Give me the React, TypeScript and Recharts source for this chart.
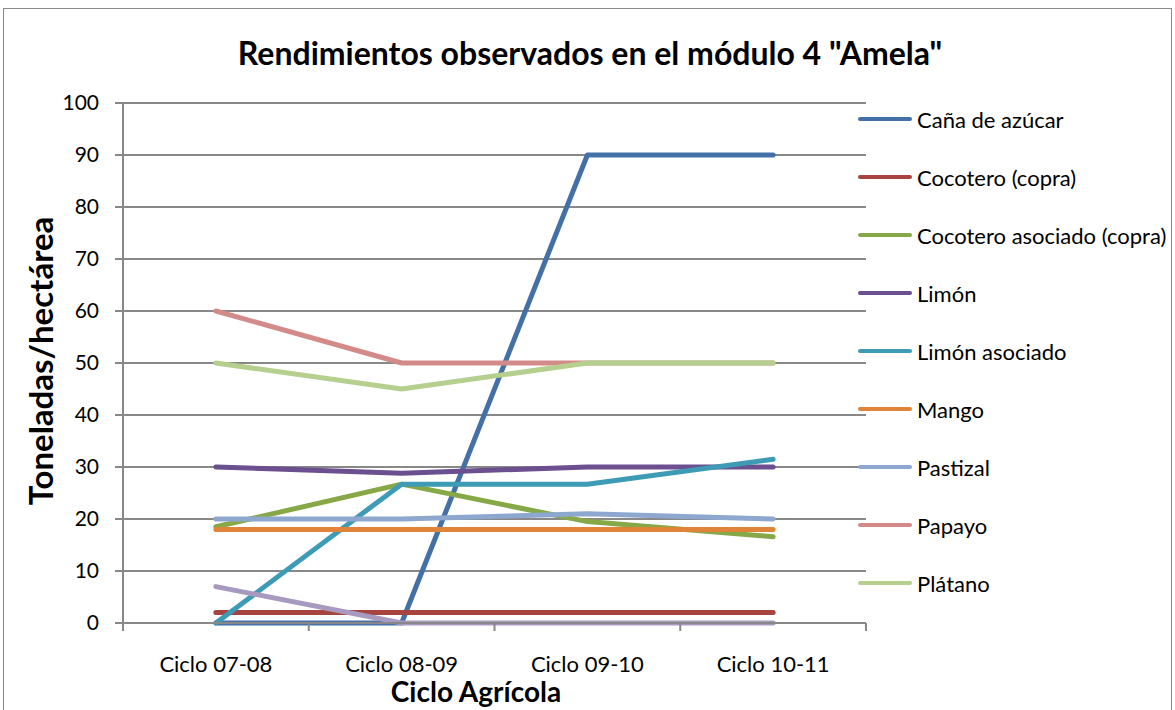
import React from 'react';
import { LineChart, Line, XAxis, YAxis, CartesianGrid } from 'recharts';

const ciclos = ['Ciclo 07-08', 'Ciclo 08-09', 'Ciclo 09-10', 'Ciclo 10-11'];

const cana = [0, 0, 90, 90];
const cocotero = [2, 2, 2, 2];
const cocoteroAsociado = [18.5, 26.7, 19.5, 16.6];
const limon = [30, 28.8, 30, 30];
const limonAsociado = [0, 26.7, 26.7, 31.5];
const mango = [18, 18, 18, 18];
const pastizal = [20, 20, 21, 20];
const papayo = [60, 50, 50, 50];
const platano = [50, 45, 50, 50];
const otro = [7, 0, 0, 0];

const yTicks = [0, 10, 20, 30, 40, 50, 60, 70, 80, 90, 100];

const series = [
  { key: 'cana', name: 'Caña de azúcar', values: cana, color: '#4470A8' },
  { key: 'cocotero', name: 'Cocotero (copra)', values: cocotero, color: '#A84440' },
  { key: 'cocoteroAsociado', name: 'Cocotero asociado (copra)', values: cocoteroAsociado, color: '#86A846' },
  { key: 'limon', name: 'Limón', values: limon, color: '#6B4F8E' },
  { key: 'limonAsociado', name: 'Limón asociado', values: limonAsociado, color: '#3E9BB5' },
  { key: 'mango', name: 'Mango', values: mango, color: '#E0843A' },
  { key: 'pastizal', name: 'Pastizal', values: pastizal, color: '#8EA7CE' },
  { key: 'papayo', name: 'Papayo', values: papayo, color: '#D38B89' },
  { key: 'platano', name: 'Plátano', values: platano, color: '#B5CF8E' },
  // no aparece en la leyenda original
  { key: 'otro', name: 'Otro', values: otro, color: '#A899C0', hidden: true },
];

const data = ciclos.map((c, i) => {
  const row: any = { ciclo: c };
  series.forEach((s) => { row[s.key] = s.values[i]; });
  return row;
});

const FONT = 'Lato, "Open Sans", sans-serif';
const AXIS = '#888';

// layout
const margin = { top: 103, right: 309, left: 63, bottom: 57 };
const yAxisWidth = 60;
const plotLeft = margin.left + yAxisWidth;
const plotRight = 1175 - margin.right;
const plotBottom = 710 - margin.bottom - 30;
const band = (plotRight - plotLeft) / ciclos.length;

// etiqueta de categoría + marcas entre categorías
const XTick = (props: any) => {
  const { x, payload, index } = props;
  const half = band / 2;
  return (
    <g>
      <line x1={x - half} x2={x - half} y1={plotBottom} y2={plotBottom + 8} stroke={AXIS} strokeWidth={2} />
      {index === ciclos.length - 1 && (
        <line x1={x + half} x2={x + half} y1={plotBottom} y2={plotBottom + 8} stroke={AXIS} strokeWidth={2} />
      )}
      <text x={x} y={plotBottom + 49} textAnchor="middle" fill="#000" fontSize={22} fontFamily={FONT}>
        {payload.value}
      </text>
    </g>
  );
};

export default function App() {
  return (
    <div style={{ position: 'absolute', left: 0, top: 0, width: 1175, height: 710, background: '#fff', fontFamily: FONT, overflow: 'hidden' }}>
      <div style={{ position: 'absolute', left: 3, top: 8, width: 1167, height: 720, border: '1.5px solid #8a8a8a' }} />
      <div style={{ position: 'absolute', left: 590, top: 52, transform: 'translate(-50%, -50%)', fontSize: 32, fontWeight: 700, whiteSpace: 'nowrap' }}>
        Rendimientos observados en el módulo 4 "Amela"
      </div>
      <div style={{ position: 'absolute', left: 40, top: 361, transform: 'translate(-50%, -50%) rotate(-90deg)', fontSize: 33, fontWeight: 700, whiteSpace: 'nowrap' }}>
        Toneladas/hectárea
      </div>
      <div style={{ position: 'absolute', left: 476, top: 691, transform: 'translate(-50%, -50%)', fontSize: 28, fontWeight: 700, whiteSpace: 'nowrap' }}>
        Ciclo Agrícola
      </div>
      <div style={{ position: 'absolute', left: 0, top: 0 }}>
        <LineChart width={1175} height={710} data={data} margin={margin}>
          <CartesianGrid vertical={false} stroke={AXIS} strokeWidth={2} />
          <XAxis dataKey="ciclo" scale="band" height={30} interval={0}
            axisLine={{ stroke: AXIS, strokeWidth: 2 }} tickLine={false} tick={<XTick />} />
          <YAxis domain={[0, 100]} ticks={yTicks} width={yAxisWidth} interval={0}
            axisLine={{ stroke: AXIS, strokeWidth: 2 }} tickLine={{ stroke: AXIS, strokeWidth: 2 }} tickSize={8}
            tickMargin={16} tick={{ fill: '#000', fontSize: 21, fontFamily: FONT }} />
          {series.map((s) => (
            <Line key={s.key} type="linear" dataKey={s.key} name={s.name} stroke={s.color}
              strokeWidth={5} strokeLinecap="round" strokeLinejoin="round" dot={false} activeDot={false}
              legendType={s.hidden ? 'none' : 'line'} isAnimationActive={false} />
          ))}
        </LineChart>
      </div>
      <div style={{ position: 'absolute', left: 858, top: 90 }}>
        {series.filter((s) => !s.hidden).map((s) => (
          <div key={s.key} style={{ height: 58, display: 'flex', alignItems: 'center' }}>
            <div style={{ width: 54, height: 4, borderRadius: 2, background: s.color, marginRight: 5 }} />
            <span style={{ fontSize: 22, color: '#000', whiteSpace: 'nowrap' }}>{s.name}</span>
          </div>
        ))}
      </div>
    </div>
  );
}
